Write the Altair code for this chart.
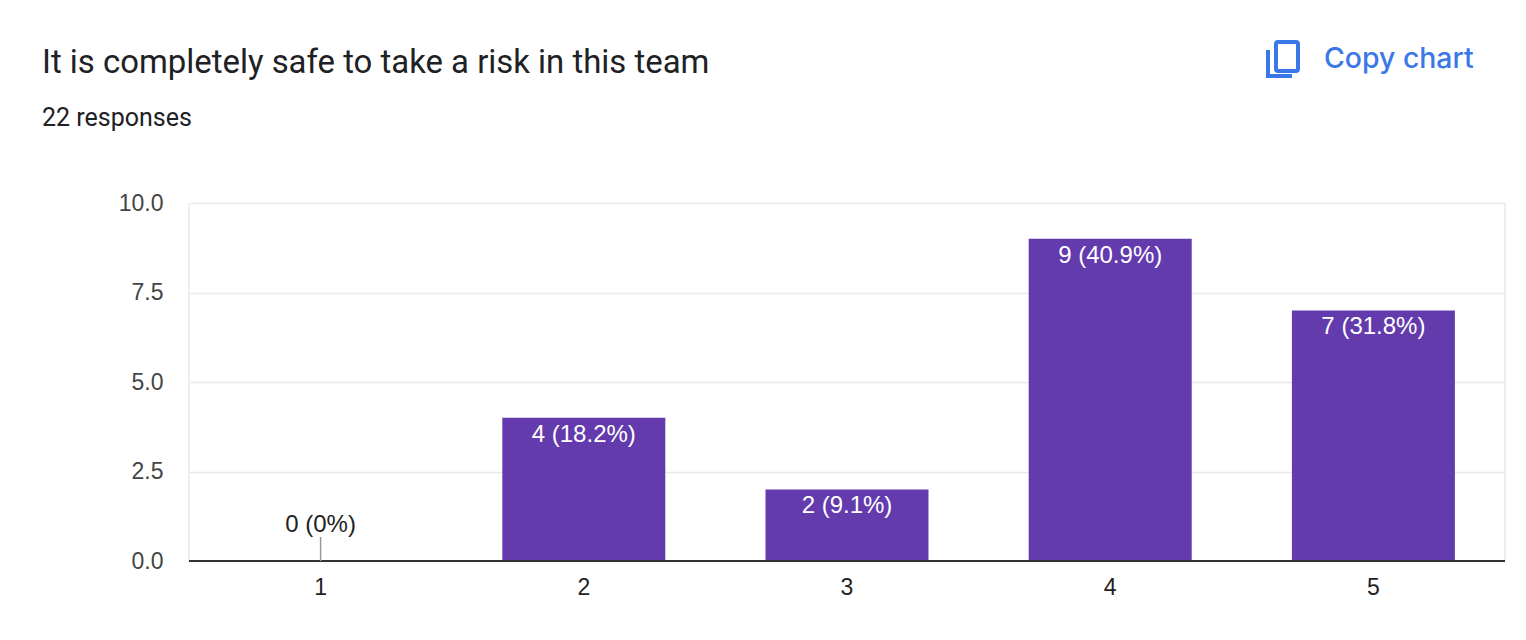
import altair as alt
import pandas as pd

categories = ["1", "2", "3", "4", "5"]
counts = [0, 4, 2, 9, 7]
labels = ["0 (0%)", "4 (18.2%)", "2 (9.1%)", "9 (40.9%)", "7 (31.8%)"]
leader_top = [0.67, None, None, None, None]
y_ticks = [0, 2.5, 5, 7.5, 10]

TITLE = "It is completely safe to take a risk in this team"
SUBTITLE = "22 responses"
COPY = "Copy chart"
BLUE = "#3b78e7"
PURPLE = "#633bad"

df = pd.DataFrame({"cat": categories, "n": counts, "label": labels, "leader": leader_top})

x = alt.X("cat:N", sort=categories, title=None,
          scale=alt.Scale(paddingInner=0.38, paddingOuter=0.19),
          axis=alt.Axis(labelAngle=0, ticks=False, domain=False, grid=False, labelPadding=15,
                        labelFont="Liberation Sans", labelFontSize=23, labelColor="#222222"))
y = alt.Y("n:Q", title=None, scale=alt.Scale(domain=[0, 10], nice=False),
          axis=alt.Axis(values=y_ticks, format=".1f", ticks=False, domain=False, labelPadding=26,
                        labelFont="Liberation Sans", labelFontSize=23, labelColor="#444444",
                        gridColor="#e9e9e9", gridWidth=1.5))

bars = alt.Chart(df).mark_bar(color=PURPLE, size=163).encode(x=x, y=y)

in_df = df[df.n > 0]
inside = alt.Chart(in_df).mark_text(baseline="middle", dy=17, color="white", font="Liberation Sans",
                                    fontSize=24).encode(x=alt.X("cat:N", sort=categories), y="n:Q", text="label:N")
zero_df = df[df.n == 0]
leader = alt.Chart(zero_df).mark_rule(color="#999999", strokeWidth=1.5).encode(
    x=alt.X("cat:N", sort=categories), y="n:Q", y2="leader:Q")
outside = alt.Chart(zero_df).mark_text(baseline="middle", dy=-36, color="#222222", font="Liberation Sans",
                                       fontSize=24).encode(x=alt.X("cat:N", sort=categories), y="n:Q", text="label:N")

left_edge = alt.Chart(df.head(1)).mark_rule(color="#e9e9e9", strokeWidth=1.5).encode(
    x=alt.value(0), y=alt.value(0), y2=alt.value(358))
right_edge = alt.Chart(df.head(1)).mark_rule(color="#e9e9e9", strokeWidth=1.5).encode(
    x=alt.value(1316), y=alt.value(0), y2=alt.value(358))
baseline = alt.Chart(df.head(1)).mark_rule(color="#333333", strokeWidth=2).encode(
    x=alt.value(0), x2=alt.value(1316), y=alt.value(358))

one = df.head(1)
header = alt.Chart(one).mark_text(align="left", baseline="middle", font="Roboto", fontSize=32.9, color="#202124").encode(
    x=alt.value(-147), y=alt.value(-140), text=alt.value(TITLE))
sub = alt.Chart(one).mark_text(align="left", baseline="middle", font="Roboto", fontSize=25, color="#202124").encode(
    x=alt.value(-147), y=alt.value(-85), text=alt.value(SUBTITLE))
copy = alt.Chart(one).mark_text(align="left", baseline="middle", font="Inter", fontSize=28.4, fontWeight=500, color=BLUE).encode(
    x=alt.value(1135), y=alt.value(-144), text=alt.value(COPY))
icon_box = alt.Chart(one).mark_rect(fill="white", stroke=BLUE, strokeWidth=4, cornerRadius=2).encode(
    x=alt.value(1087), x2=alt.value(1109), y=alt.value(-161), y2=alt.value(-132))
icon_v = alt.Chart(one).mark_rule(color=BLUE, strokeWidth=4).encode(
    x=alt.value(1079), y=alt.value(-153), y2=alt.value(-125))
icon_h = alt.Chart(one).mark_rule(color=BLUE, strokeWidth=4).encode(
    x=alt.value(1077), x2=alt.value(1103), y=alt.value(-127))

chart = alt.layer(
    bars, left_edge, right_edge, baseline, inside, leader, outside,
    header, sub, copy, icon_box, icon_v, icon_h
).properties(
    width=1316, height=358,
    padding={"left": 181, "top": 195, "right": 13, "bottom": 40},
    autosize=alt.AutoSizeParams(type="none"),
    background="white",
).configure_view(stroke=None)

chart.save("out.html", embed_options={"renderer": "svg", "actions": False})
